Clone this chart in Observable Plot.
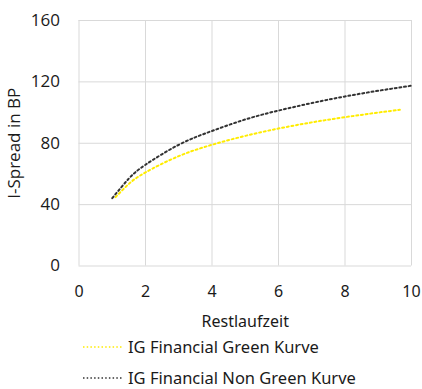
<!DOCTYPE html>
<html>
<head>
<meta charset="utf-8">
<script src="https://cdn.jsdelivr.net/npm/d3@7"></script>
<script src="https://cdn.jsdelivr.net/npm/@observablehq/plot@0.6"></script>
<style>
  body { margin: 0; background: #fff; }
  #chart { position: relative; width: 422px; height: 389px; overflow: hidden; }
  #chart > svg { position: absolute; left: 0; top: 0; }
  .legend-item { position: absolute; left: 83px; height: 18px; line-height: 18px; display: flex; align-items: center;
    font-family: "Noto Sans", sans-serif; font-size: 16.5px; color: #1a1a1a; white-space: nowrap; }
  .legend-item svg { margin-right: 5px; }
</style>
</head>
<body>
<div id="chart"></div>
<script>
// Remaining maturity (years) and I-spread (bp) for both curves
const greenYears = [1.1, 1.5, 2, 3, 4, 5, 6, 7, 8, 9, 9.65];
const greenSpread = [44.9, 53.5, 61, 71.6, 79, 84.8, 89.6, 93.6, 97, 100, 101.8];
const nonGreenYears = [1, 1.5, 2, 3, 4, 5, 6, 7, 8, 9, 10];
const nonGreenSpread = [44.2, 57, 66, 79, 88, 95.5, 101.3, 106.2, 110.5, 114.2, 117.5];

const seriesNames = ["IG Financial Green Kurve", "IG Financial Non Green Kurve"];
const seriesColors = ["#ffec00", "#333333"];

const xTicks = [0, 2, 4, 6, 8, 10];
const yTicks = [0, 40, 80, 120, 160];

const rows = [
  ...greenYears.map((x, i) => ({series: seriesNames[0], x, y: greenSpread[i]})),
  ...nonGreenYears.map((x, i) => ({series: seriesNames[1], x, y: nonGreenSpread[i]}))
];

const dash = "2,2.7";

const plot = Plot.plot({
  width: 422,
  height: 335,
  marginTop: 20,
  marginBottom: 69.5,
  marginLeft: 78.5,
  marginRight: 11,
  style: {background: "transparent", color: "#1a1a1a"},
  x: {domain: [0, 10]},
  y: {domain: [0, 160]},
  color: {domain: seriesNames, range: seriesColors},
  marks: [
    Plot.gridX(xTicks, {stroke: "#d9d9d9", strokeOpacity: 1, strokeWidth: 1}),
    Plot.gridY(yTicks, {stroke: "#d9d9d9", strokeOpacity: 1, strokeWidth: 1}),
    Plot.axisX(xTicks, {
      tickSize: 0, tickPadding: 20, fontSize: 16, fontFamily: "Noto Sans",
      label: "Restlaufzeit", labelAnchor: "center", labelArrow: "none", labelOffset: 61
    }),
    Plot.axisY(yTicks, {
      tickSize: 0, tickPadding: 19, fontSize: 17, fontFamily: "Open Sans",
      label: "I-Spread in BP", labelAnchor: "center", labelArrow: "none", labelOffset: 71
    }),
    Plot.line(rows, {
      x: "x", y: "y", z: "series", stroke: "series",
      strokeWidth: 2, strokeDasharray: dash, curve: "natural"
    })
  ]
});

const chart = document.getElementById("chart");
chart.appendChild(plot);

// Legend below the plot
const legendTops = [337.5, 369];
seriesNames.forEach((name, i) => {
  const item = d3.select(chart).append("div")
    .attr("class", "legend-item")
    .style("top", legendTops[i] + "px");
  const sw = item.append("svg").attr("width", 40).attr("height", 4);
  sw.append("line")
    .attr("x1", 0).attr("x2", 40).attr("y1", 2).attr("y2", 2)
    .attr("stroke", seriesColors[i]).attr("stroke-width", 1.5)
    .attr("stroke-dasharray", "1.5,2.2");
  item.append("span").text(name);
});
</script>
</body>
</html>
